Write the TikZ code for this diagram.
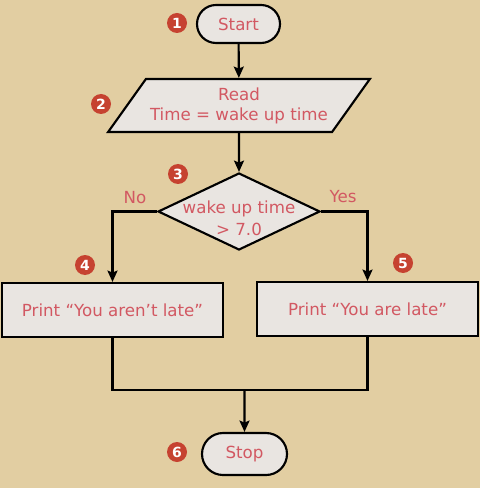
\documentclass[tikz,border=0pt]{standalone}
\usepackage{fontspec}
\setmainfont{DejaVu Sans}
\usetikzlibrary{arrows.meta, shapes.geometric, shapes.misc}
\definecolor{paper}{RGB}{226,206,162}
\definecolor{boxfill}{RGB}{233,229,225}
\definecolor{inkred}{RGB}{210,88,98}
\definecolor{dotred}{RGB}{198,66,48}
\begin{document}
\begin{tikzpicture}[
      x=0.75pt, y=-0.75pt,
      >={Stealth[length=8.5pt,width=7.5pt,inset=1.5pt]},
      every node/.style={font=\fontsize{12.5}{15}\selectfont},
      txt/.style={text=inkred, align=center},
      terminal/.style={rounded rectangle, draw, line width=1.6pt, fill=boxfill, txt, inner sep=0pt},
      io/.style={trapezium, trapezium left angle=45, trapezium right angle=135, trapezium stretches,
                 draw, line width=1.6pt, fill=boxfill, txt, inner sep=0pt,
                 minimum width=196.5pt, minimum height=39.75pt},
      decision/.style={diamond, draw, line width=1.6pt, fill=boxfill, inner sep=0pt,
                 minimum width=121.5pt, minimum height=57.75pt},
      process/.style={rectangle, draw, line width=1.6pt, fill=boxfill, txt,
                 minimum width=165.75pt, minimum height=40.5pt},
      step num/.style={circle, fill=dotred, text=white, inner sep=0pt, minimum size=15pt,
                 font=\fontsize{10.5}{10.5}\selectfont\bfseries},
      flow/.style={line width=1.6pt}
      ]
      % background
      \fill [paper] (0,0) rectangle (480,488);
      % nodes
      \node [terminal, minimum width=62.25pt, minimum height=28.5pt] (start) at (238.5,24) {Start};
      \node [io] (read) at (239,105.5) {Read\\Time = wake up time};
      \node [decision, label={[txt, yshift=-5pt, font=\fontsize{12.5}{16}\selectfont]center:{wake up time\\> 7.0}}] (dec) at (239,211.5) {};
      \node [process] (late no) at (112.5,310) {Print “You aren’t late”};
      \node [process] (late yes) at (367.5,309) {Print “You are late”};
      \node [terminal, minimum width=63.75pt, minimum height=31.5pt] (stop) at (244.5,454) {Stop};
      % branch labels
      \node [txt] (no) at (135,198) {No};
      \node [txt] (yes) at (343,197) {Yes};
      % step numbers
      \foreach \x/\y/\n in {177/23/1, 101/104/2, 178/174/3, 85/265/4, 403/263/5, 177/452/6} {
          \node [step num] (n\n) at (\x,\y) {\n};
      }
      % arcs
      \coordinate (join) at (244.5,390);
      \draw [flow,->] (start) -- (read);
      \draw [flow,->] (read) -- (dec);
      \draw [flow,->] (dec.west) -| (late no.north);
      \draw [flow,->] (dec.east) -| (late yes.north);
      \draw [flow] (late no.south) |- (join);
      \draw [flow] (late yes.south) |- (join);
      \draw [flow,->] (join) -- (stop);
    \end{tikzpicture}
\end{document}
